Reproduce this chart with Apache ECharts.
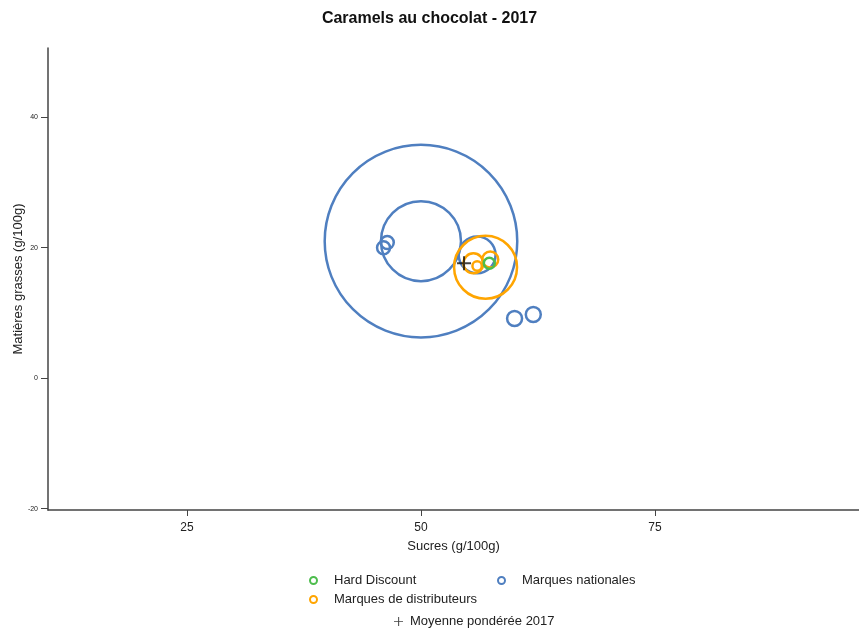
<!DOCTYPE html>
<html>
<head>
<meta charset="utf-8">
<script src="https://cdn.jsdelivr.net/npm/echarts@6/dist/echarts.min.js"></script>
<style>
  html, body { margin: 0; padding: 0; background: #fff; }
  #chart { width: 859px; height: 635px; }
</style>
</head>
<body>
<div id="chart"></div>
<script>
// Caramels au chocolat - 2017 : sucres vs matieres grasses, taille = poids
var xTicks = [25, 50, 75];
var yTicks = [-20, 0, 20, 40];

// Hard Discount
var hdSucres = [57.3];
var hdGras = [17.6];
var hdPoids = [0.3];

// Marques de distributeurs
var mddSucres = [56.9, 55.6, 57.4, 56.0];
var mddGras = [17.0, 17.6, 18.2, 17.2];
var mddPoids = [9.9, 1.0, 0.64, 0.22];

// Marques nationales
var mnSucres = [50.0, 50.0, 56.0, 46.0, 46.4, 60.0, 62.0];
var mnGras = [21.0, 21.0, 18.9, 20.0, 20.8, 9.15, 9.76];
var mnPoids = [92.7, 16.0, 3.4, 0.42, 0.42, 0.56, 0.56];

// Moyenne ponderee
var moySucres = [54.6];
var moyGras = [17.6];

(function() {
  var font = '"Liberation Sans", Arial, sans-serif';
  var blue = '#4f7fc0';
  var orange = '#ffa500';
  var green = '#4dbd4d';
  var ink = '#222';
  var plus = 'path://M6,0H8V6H14V8H8V14H6V8H0V6H6Z';

  function pts(xs, ys, ws) {
    return xs.map(function(x, i) { return [x, ys[i], ws ? ws[i] : 0]; });
  }
  function bubbles(name, color, xs, ys, ws, lw) {
    return {
      name: name,
      type: 'scatter',
      data: pts(xs, ys, ws),
      symbol: 'circle',
      symbolSize: function(v) { return 20 * Math.sqrt(v[2]); },
      itemStyle: { color: 'rgba(0,0,0,0)', borderColor: color, borderWidth: lw, opacity: 1 },
      emphasis: { disabled: true }
    };
  }
  function legendAt(left, top, name) {
    return {
      left: left, top: top, itemWidth: 7, itemHeight: 7, icon: 'circle',
      data: [name],
      itemStyle: { borderWidth: 2 },
      textStyle: { fontFamily: font, fontSize: 13, color: ink, padding: [0, 0, 0, 12] },
      selectedMode: false
    };
  }

  var chart = echarts.init(document.getElementById('chart'), null, { renderer: 'canvas' });
  chart.setOption({
    animation: false,
    textStyle: { fontFamily: font },
    title: {
      text: 'Caramels au chocolat - 2017',
      left: 'center',
      top: 6,
      textStyle: { fontFamily: font, fontSize: 16, fontWeight: 'bold', color: '#111' }
    },
    legend: [
      legendAt(304, 569, 'Hard Discount'),
      legendAt(492, 569, 'Marques nationales'),
      legendAt(304, 588, 'Marques de distributeurs'),
      {
        left: 389, top: 610, itemWidth: 9, itemHeight: 9,
        data: [{ name: 'Moyenne pondérée 2017', icon: 'path://M6,0H7.4V6H13V7.4H7.4V13H6V7.4H0V6H6Z' }],
        textStyle: { fontFamily: font, fontSize: 13, color: ink, padding: [0, 0, 0, 2] },
        selectedMode: false
      }
    ],
    grid: { left: 48, right: 0, top: 48, bottom: 125, outerBoundsMode: 'none' },
    xAxis: {
      type: 'value',
      min: 10.15, max: 96.8,
      name: 'Sucres (g/100g)',
      nameLocation: 'middle',
      nameGap: 30,
      nameMoveOverlap: false,
      nameTextStyle: { fontFamily: font, fontSize: 13, color: ink },
      axisLine: { show: true, onZero: false, lineStyle: { color: '#444', width: 1.5 } },
      axisTick: { show: true, length: 6, customValues: xTicks, lineStyle: { color: '#444' } },
      axisLabel: { customValues: xTicks, fontFamily: font, fontSize: 12, color: ink, margin: 12 },
      splitLine: { show: false }
    },
    yAxis: {
      type: 'value',
      min: -20.2, max: 50.6,
      name: 'Matières grasses (g/100g)',
      nameLocation: 'middle',
      nameGap: 23,
      nameMoveOverlap: false,
      nameTextStyle: { fontFamily: font, fontSize: 13, color: ink },
      axisLine: { show: true, onZero: false, lineStyle: { color: '#444', width: 1.5 } },
      axisTick: { show: true, length: 7, customValues: yTicks, lineStyle: { color: '#444' } },
      axisLabel: { customValues: yTicks, fontFamily: font, fontSize: 7, color: ink, margin: 10 },
      splitLine: { show: false }
    },
    series: [
      bubbles('Marques nationales', blue, mnSucres, mnGras, mnPoids, 2.5),
      bubbles('Marques de distributeurs', orange, mddSucres, mddGras, mddPoids, 2.5),
      bubbles('Hard Discount', green, hdSucres, hdGras, hdPoids, 2.5),
      {
        name: 'Moyenne pondérée 2017',
        type: 'scatter',
        data: pts(moySucres, moyGras),
        symbol: plus,
        symbolSize: 14,
        itemStyle: { color: '#111' },
        emphasis: { disabled: true },
        z: 5
      }
    ]
  });
  window.addEventListener('resize', function() { chart.resize(); });
})();
</script>
</body>
</html>
